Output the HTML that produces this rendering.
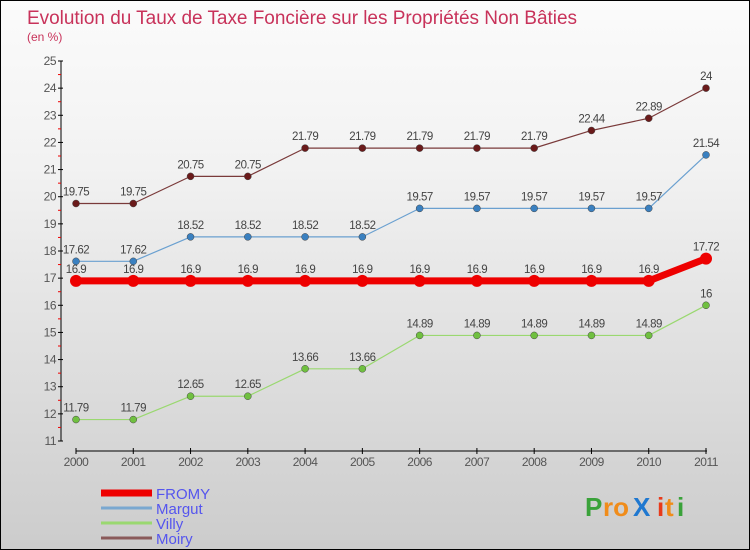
<!DOCTYPE html>
<html><head><meta charset="utf-8"><style>
body{margin:0}
#c{width:748px;height:548px;border:1px solid #000;background:linear-gradient(#fbfbfb,#f2f2f2 30%,#cccccc);position:relative;overflow:hidden;font-family:"Liberation Sans",sans-serif}
</style></head><body>
<div id="c">
<svg id="s" width="748" height="548" xmlns="http://www.w3.org/2000/svg">
<text x="26" y="23" font-size="19" fill="#c8325a" textLength="550">Evolution du Taux de Taxe Foncière sur les Propriétés Non Bâties</text>
<text x="26" y="40" font-size="12" fill="#c8325a">(en %)</text>
<g id="axes"></g><g id="series"></g><g id="legend"></g>
<g font-size="26" font-weight="bold">
<text x="584" y="515" fill="#3aa23a">P</text><text x="602" y="515" fill="#f08c1a">ro</text><text x="632" y="515" fill="#1f78d0">X</text><text x="656" y="515" fill="#e83a1a">i</text><text x="664" y="515" fill="#f08c1a">t</text><text x="676" y="515" fill="#3aa23a">i</text>
</g>
</svg>
</div>
<script>
const years=[2000,2001,2002,2003,2004,2005,2006,2007,2008,2009,2010,2011];
const yTicks=[11,12,13,14,15,16,17,18,19,20,21,22,23,24,25];
const names=["FROMY","Margut","Villy","Moiry"];
const fromy=[16.9,16.9,16.9,16.9,16.9,16.9,16.9,16.9,16.9,16.9,16.9,17.72];
const margut=[17.62,17.62,18.52,18.52,18.52,18.52,19.57,19.57,19.57,19.57,19.57,21.54];
const villy=[11.79,11.79,12.65,12.65,13.66,13.66,14.89,14.89,14.89,14.89,14.89,16];
const moiry=[19.75,19.75,20.75,20.75,21.79,21.79,21.79,21.79,21.79,22.44,22.89,24];
const NS="http://www.w3.org/2000/svg";
const X=i=>75+i*(630/11);
const Y=v=>440-(v-11)*(380/14);
function mk(t,a,p){const e=document.createElementNS(NS,t);for(const k in a)e.setAttribute(k,a[k]);p.appendChild(e);return e;}
const ax=document.getElementById('axes');
let l=mk('line',{x1:60,y1:60,x2:60,y2:440,stroke:'#000'},ax);


l=mk('line',{x1:75,y1:450,x2:706,y2:450,stroke:'#000'},ax);


yTicks.forEach(v=>{
 mk('line',{x1:57,x2:62,y1:Y(v),y2:Y(v),stroke:'#000'},ax);
 if(v<25)mk('line',{x1:57,x2:60,y1:Y(v+0.5),y2:Y(v+0.5),stroke:'#e00'},ax);
 const t=mk('text',{x:55,y:Y(v)+4,'text-anchor':'end','font-size':12,fill:'#555','letter-spacing':'-0.5'},ax);
 t.textContent=v;
 
 
});
years.forEach((yr,i)=>{
 mk('line',{x1:X(i),x2:X(i),y1:447,y2:453,stroke:'#000'},ax);
 const t=mk('text',{x:X(i),y:465,'text-anchor':'middle','font-size':12,fill:'#555','letter-spacing':'-0.5'},ax);
 t.textContent=yr;
 
 
});
const sg=document.getElementById('series');
const defs=[[moiry,'#7a3a3a','#6a1a1a',1.2,3.5,'moiry'],[margut,'#6aa0d0','#3a80c0',1.2,3.5,'margut'],[villy,'#9ad870','#70c040',1.2,3.5,'villy'],[fromy,'#ee0000','#ee0000',7,6,'fromy']];
defs.forEach(([d,lc,pc,w,r,n])=>{
 const g=mk('g',{},sg);
 
 
 const p=mk('polyline',{points:d.map((v,i)=>X(i)+','+Y(v)).join(' '),fill:'none',stroke:lc,'stroke-width':w,'stroke-linejoin':'round'},g);
 
 
 d.forEach((v,i)=>{
  const c=mk('circle',{cx:X(i),cy:Y(v),r:r,fill:pc,stroke:n=='fromy'?'none':'#444','stroke-width':0.5},g);
  
  
  const t=mk('text',{x:X(i),y:Y(v)-8,'text-anchor':'middle','font-size':11.5,fill:'#444','letter-spacing':'-0.5'},g);
  t.textContent=String(v);
  
  
 });
});
const lg=document.getElementById('legend');
const lcol=['#ee0000','#7aa8d0','#9ad870','#8a5a5a'];const lw=[7,3,3,3];
names.forEach((n,i)=>{
 const y=492+i*15;
 const ln=mk('line',{x1:100,x2:151,y1:y,y2:y,stroke:lcol[i],'stroke-width':lw[i]},lg);
 
 
 const t=mk('text',{x:155,y:y+6,'font-size':15,fill:'#5555ee'},lg);
 t.textContent=n;
 
 
});
</script>
</body></html>
